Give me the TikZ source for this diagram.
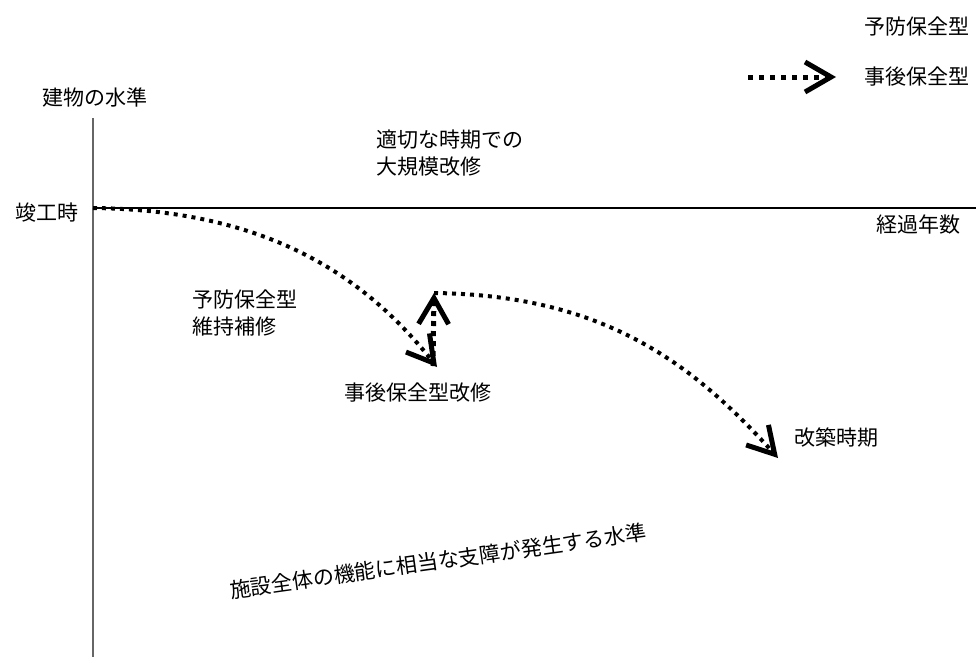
\documentclass[tikz,border=0pt]{standalone}
\usepackage{fontspec}
\setmainfont{Noto Sans CJK JP}
\usetikzlibrary{arrows.meta,positioning}

\begin{document}
\begin{tikzpicture}[x=1pt, y=-1pt, every node/.style={inner sep=0pt, font=\fontsize{21}{27}\selectfont}]
    \tikzset{dotline/.style={line width=4pt, dash pattern=on 4pt off 5pt},
      chev/.style={-{Straight Barb[length=26pt,width=30pt,line width=5pt]}}}
    \useasboundingbox (0,0) rectangle (976,657);
    % axes
    \coordinate (origin) at (93,208);
    \coordinate (ytop) at (93,118);
    \coordinate (ybot) at (93,657);
    \coordinate (xend) at (976,208);
    \draw[gray!80!black, line width=2pt] (ytop) -- (ybot);
    \draw[line width=1.3pt] (origin) -- (xend);
    % labels
    \node (ylabel) at (95,97) {建物の水準};
    \node[anchor=east] (completion) at (79,213) {竣工時};
    \node (xlabel) at (918,225) {経過年数};
    \node[anchor=west, align=left] (bigrepair) at (376,153) {適切な時期での\\大規模改修};
    \node[anchor=west, align=left] (prevmaint) at (192,313) {予防保全型\\維持補修};
    \node (postrepair) at (418,393) {事後保全型改修};
    \node (rebuild) at (836,437) {改築時期};
    \node[rotate=8] (critical) at (438,561) {施設全体の機能に相当な支障が発生する水準};
    % legend
    \node (legprev) at (917,27) {予防保全型};
    \node (legpost) at (917,77) {事後保全型};
    \coordinate (legA) at (748,77);
    \coordinate (legB) at (836,77);
    \draw[dotline, line width=5pt, dash pattern=on 5pt off 6pt, chev] (legA) -- (legB);
    % curves
    \coordinate (dip) at (437,367);
    \coordinate (peak) at (434,293);
    \coordinate (endpt) at (778,458);
    \draw[dotline, chev] (origin) .. controls (260,210) and (360,270) .. (dip);
    \draw[dotline, line width=5pt, dash pattern=on 5pt off 5pt, chev] (433,366) -- (peak);
    \draw[dotline, chev] (peak) .. controls (600,295) and (690,360) .. (endpt);
\end{tikzpicture}
\end{document}
